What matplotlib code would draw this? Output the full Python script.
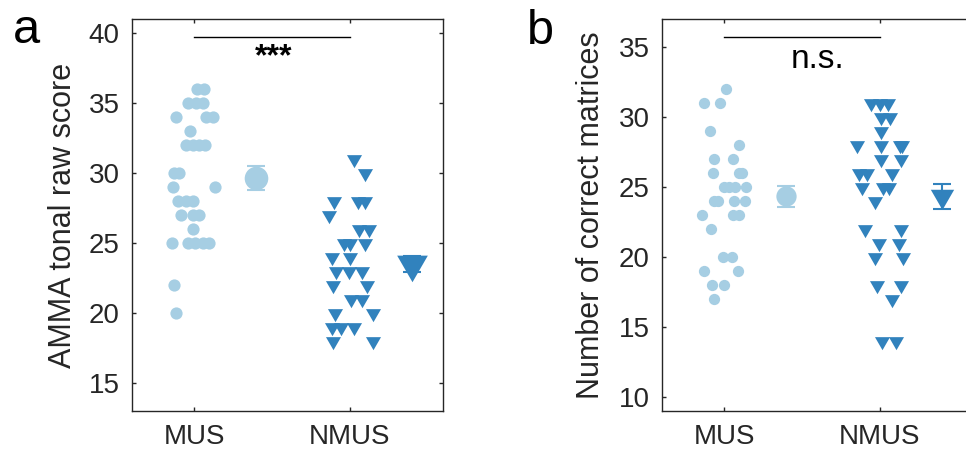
import numpy as np
import matplotlib
matplotlib.use("Agg")
import matplotlib.pyplot as plt
from matplotlib.path import Path

plt.rcParams['font.family'] = ['Liberation Sans', 'DejaVu Sans']

# ---------------- data ----------------
groups = ["MUS", "NMUS"]

# panel a: AMMA tonal raw score
mus_a = [36, 36, 35, 35, 35, 34, 34, 34, 33, 32, 32, 32, 32, 30, 30, 29, 29,
         28, 28, 28, 27, 27, 27, 26, 25, 25, 25, 25, 25, 22, 20]
mus_a_jitter = [0.019, 0.060, -0.041, 0.013, 0.055, -0.120, 0.077, 0.118, -0.028,
                -0.050, -0.009, 0.030, 0.071, -0.127, -0.095, -0.135, 0.133,
                -0.101, -0.054, -0.006, -0.084, -0.005, 0.028, -0.006,
                -0.141, -0.037, 0.006, 0.055, 0.098, -0.129, -0.116]
nmus_a = [31, 30, 28, 28, 28, 27, 26, 26, 25, 25, 25, 24, 24, 23, 23, 23,
          22, 22, 21, 21, 20, 20, 19, 19, 19, 18, 18]
nmus_a_jitter = [0.026, 0.099, -0.098, 0.052, 0.099, -0.133, 0.060, 0.127,
                 -0.034, 0.0, 0.101, -0.111, 0.005, -0.090, -0.002, 0.082,
                 -0.109, 0.109, 0.009, 0.080, -0.092, 0.148, -0.116, -0.055,
                 0.028, -0.105, 0.148]
means_a = [29.65, 23.52]
sems_a = [0.87, 0.57]

# panel b: number of correct matrices
mus_b = [32, 31, 31, 29, 28, 27, 27, 26, 26, 26, 25, 25, 25, 25, 24, 24, 24, 24,
         23, 23, 23, 22, 20, 20, 19, 19, 18, 18, 17]
mus_b_jitter = [0.009, -0.127, -0.026, -0.092, 0.097, -0.066, 0.054, -0.071,
                0.097, 0.114, -0.002, 0.032, 0.069, 0.138, -0.066, -0.039,
                0.065, 0.134, -0.142, 0.058, 0.097, -0.086, -0.006, 0.052,
                -0.133, 0.086, -0.079, -0.002, -0.065]
nmus_b = [31, 31, 31, 30, 30, 29, 28, 28, 28, 28, 27, 27, 26, 26, 26, 25, 25, 25,
          24, 22, 22, 21, 21, 20, 20, 18, 18, 17, 14, 14]
nmus_b_jitter = [-0.056, 0.005, 0.052, 0.009, 0.065, 0.011, -0.144, 0.011,
                 0.129, 0.146, 0.011, 0.140, -0.135, -0.081, 0.080, -0.114,
                 0.022, 0.061, -0.028, -0.094, 0.138, -0.002, 0.123, -0.030,
                 0.148, -0.019, 0.138, 0.077, 0.013, 0.108]
means_b = [24.33, 24.33]
sems_b = [0.73, 0.87]

sig_labels = ["***", "n.s."]
ylabels = ["AMMA tonal raw score", "Number of correct matrices"]
panel_letters = ["a", "b"]

# ---------------- style ----------------
LIGHT = "#a6cee3"
DARK = "#3182bd"
AXC = "#262626"

h = np.sqrt(3)
tri_path = Path([(-1, h / 3), (1, h / 3), (0, -2 * h / 3), (-1, h / 3)],
                [Path.MOVETO, Path.LINETO, Path.LINETO, Path.CLOSEPOLY])

fig = plt.figure(figsize=(9.66, 4.55), dpi=100)
W, H = 966, 455
ax_a = fig.add_axes([132 / W, 1 - 411 / H, 311 / W, 392 / H])
ax_b = fig.add_axes([662 / W, 1 - 411 / H, 311 / W, 392 / H])

panels = [
    (ax_a, mus_a, mus_a_jitter, nmus_a, nmus_a_jitter, means_a, sems_a,
     (13, 41), [15, 20, 25, 30, 35, 40], 8.8, 12.5, 17.0, 25.5, 39.7, 7.5),
    (ax_b, mus_b, mus_b_jitter, nmus_b, nmus_b_jitter, means_b, sems_b,
     (9, 37), [10, 15, 20, 25, 30, 35], 8.1, 12.5, 14.6, 19.4, 35.7, 9),
]

for i, (ax, m, mj, n, nj, mu, se, ylim, yt, cs, ts, mcs, mts, sigy, lp) in enumerate(panels):
    xm = 1 + np.array(mj)
    xn = 2 + np.array(nj)
    ax.plot(xm, m, linestyle="none", marker="o", ms=cs, color=LIGHT, mew=0)
    ax.plot(xn, n, linestyle="none", marker=tri_path, ms=ts, color=DARK, mew=0)
    # mean +- sem
    ax.errorbar([1.4], [mu[0]], yerr=[se[0]], fmt="none", ecolor=LIGHT,
                elinewidth=1.5, capsize=6.5, capthick=1.5)
    ax.plot([1.4], [mu[0]], linestyle="none", marker="o", ms=mcs, color=LIGHT, mew=0)
    ax.errorbar([2.4], [mu[1]], yerr=[se[1]], fmt="none", ecolor=DARK,
                elinewidth=1.5, capsize=6.5, capthick=1.5)
    ax.plot([2.4], [mu[1]], linestyle="none", marker=tri_path, ms=mts, color=DARK, mew=0)

    ax.set_xlim(0.6, 2.6)
    ax.set_ylim(*ylim)
    ax.set_xticks([1, 2])
    ax.set_xticklabels(groups)
    ax.set_yticks(yt)
    ax.tick_params(direction="in", length=3, width=1, colors=AXC, labelsize=20,
                   top=True, right=True, pad=9)
    for s in ax.spines.values():
        s.set_color(AXC)
        s.set_linewidth(1.0)
    ax.set_ylabel(ylabels[i], fontsize=22, color=AXC, labelpad=lp)

    ax.plot([1, 2], [sigy, sigy], color="black", lw=1.0)

ax_a.text(1.51, 39.35, sig_labels[0], ha="center", va="top", fontsize=23,
          fontweight="bold", color="black")
ax_b.text(1.6, 33.5, sig_labels[1], ha="center", va="baseline", fontsize=24, color="black")

fig.text(13 / W, 1 - 43 / H, panel_letters[0], fontsize=35, color="black", va="baseline")
fig.text(527 / W, 1 - 44 / H, panel_letters[1], fontsize=35, color="black", va="baseline")

fig.savefig("out.png", dpi=100)
